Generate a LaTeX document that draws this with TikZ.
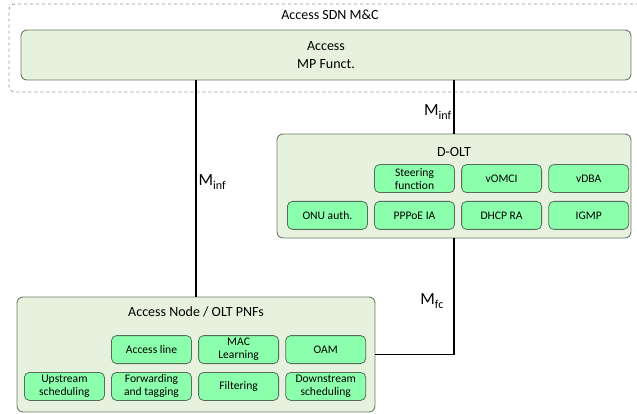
\documentclass[tikz,border=0pt]{standalone}
\usepackage{fontspec}
\setmainfont{Carlito}
\usepackage{tikz}
\usetikzlibrary{positioning}
\definecolor{panelgreen}{RGB}{231,242,222}
\definecolor{panelline}{RGB}{105,122,105}
\definecolor{fnmint}{RGB}{140,255,172}
\definecolor{fnline}{RGB}{85,110,92}
\definecolor{mcgray}{RGB}{150,150,150}
\newcommand{\mintf}[1]{M\raisebox{-4pt}{\fontsize{12}{12}\selectfont #1}}

\begin{document}
\begin{tikzpicture}[
        x=1pt, y=-1pt,
        node distance=8pt and 6.3pt,
        mcbox/.style={rectangle, rounded corners=6pt, draw=mcgray, dashed, line width=0.8pt},
        panel/.style={rectangle, rounded corners=6pt, draw=panelline, fill=panelgreen, line width=0.9pt},
        fn/.style={rectangle, rounded corners=5pt, draw=fnline, fill=fnmint, line width=0.8pt,
            minimum width=80pt, minimum height=28pt, inner sep=1pt,
            align=center, font=\fontsize{11.6}{13}\selectfont},
        heading/.style={font=\fontsize{14}{18}\selectfont, align=center, inner sep=0pt},
        link/.style={line width=1.3pt},
        ifc/.style={font=\fontsize{17}{18}\selectfont, inner sep=2pt}
    ]
        \useasboundingbox (0,0) rectangle (637,414);

        % management and control domain
        \node[mcbox, minimum width=660pt, minimum height=88pt] (mc) at (339,48) {};
        \node[heading] (mctitle) at (330,14.5) {Access SDN M\&C};
        \node[panel, minimum width=610pt, minimum height=50pt, heading] (access) at (326,55) {Access\\MP Funct.};

        % disaggregated OLT
        \node[panel, minimum width=354pt, minimum height=104pt] (dolt) at (454,186) {};
        \node[heading, below=14pt of dolt.north] (dolttitle) {D-OLT};
        \node[fn, anchor=north west] (onu) at (287,201) {ONU auth.};
        \node[fn, right=of onu] (pppoe) {PPPoE IA};
        \node[fn, right=of pppoe] (dhcp) {DHCP RA};
        \node[fn, right=of dhcp] (igmp) {IGMP};
        \node[fn, above=of pppoe] (steer) {Steering\\function};
        \node[fn, above=of dhcp] (vomci) {vOMCI};
        \node[fn, above=of igmp] (vdba) {vDBA};

        % physical network functions
        \node[panel, minimum width=358pt, minimum height=115pt] (pnf) at (196,354.5) {};
        \node[heading, below=10pt of pnf.north] (pnftitle) {Access Node / OLT PNFs};
        \node[fn, anchor=north west] (upsched) at (24,372) {Upstream\\scheduling};
        \node[fn, right=of upsched] (fwd) {Forwarding\\and tagging};
        \node[fn, right=of fwd] (filter) {Filtering};
        \node[fn, right=of filter] (dnsched) {Downstream\\scheduling};
        \node[fn, above=of fwd] (aline) {Access line};
        \node[fn, above=of filter] (mac) {MAC\\Learning};
        \node[fn, above=of dnsched] (oam) {OAM};

        % interfaces
        \draw[link] (access.south -| pnf.north) -- node[ifc, right, pos=0.47] {\mintf{inf}} (pnf.north);
        \draw[link] (access.south -| dolt.north) -- node[ifc, left, pos=0.6] {\mintf{inf}} (dolt.north);
        \draw[link] (dolt.south) |- node[ifc, left=8pt, pos=0.27] {\mintf{fc}} (pnf.east);
    \end{tikzpicture}
\end{document}
